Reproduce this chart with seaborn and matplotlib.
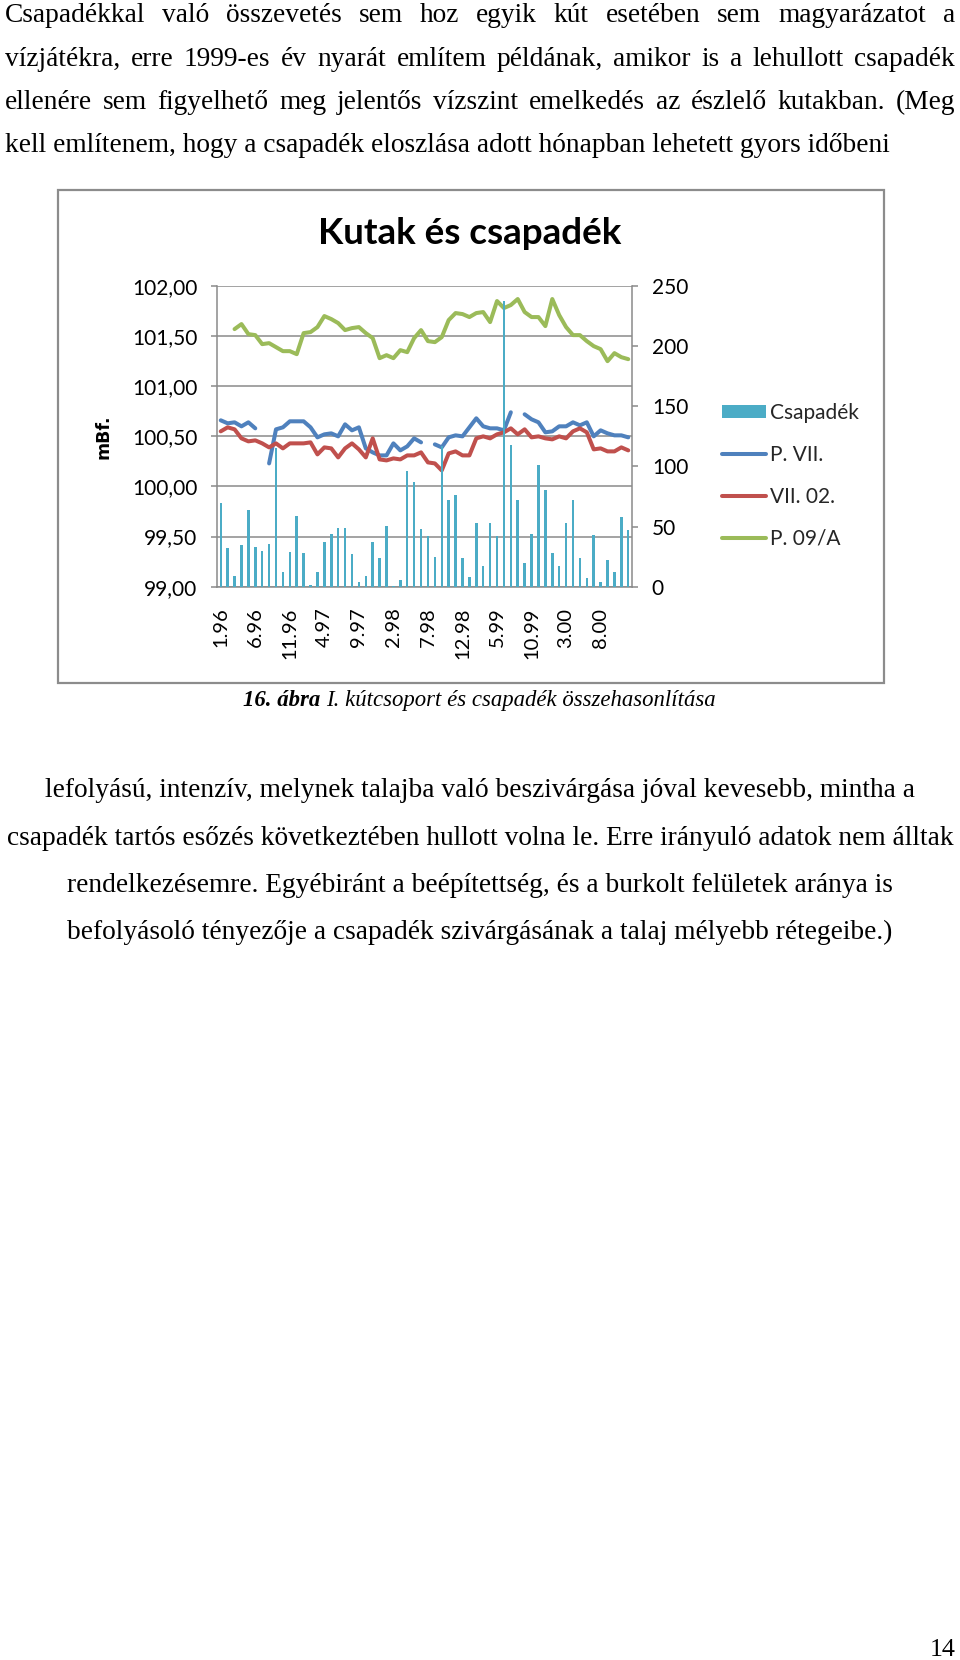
import numpy as np
import pandas as pd
import matplotlib
matplotlib.use("Agg")
import matplotlib.pyplot as plt
import seaborn as sns
from matplotlib.patches import Rectangle, Patch
from matplotlib.lines import Line2D
from matplotlib.ticker import FuncFormatter

# ---------------- data ----------------
month_labels = [
    "1.96", "2.96", "3.96", "4.96", "5.96", "6.96", "7.96", "8.96", "9.96", "10.96", "11.96", "12.96",
    "1.97", "2.97", "3.97", "4.97", "5.97", "6.97", "7.97", "8.97", "9.97", "10.97", "11.97", "12.97",
    "1.98", "2.98", "3.98", "4.98", "5.98", "6.98", "7.98", "8.98", "9.98", "10.98", "11.98", "12.98",
    "1.99", "2.99", "3.99", "4.99", "5.99", "6.99", "7.99", "8.99", "9.99", "10.99", "11.99", "12.99",
    "1.00", "2.00", "3.00", "4.00", "5.00", "6.00", "7.00", "8.00", "9.00", "10.00", "11.00", "12.00",
]
tick_labels = ["1.96", "6.96", "11.96", "4.97", "9.97", "2.98", "7.98", "12.98", "5.99", "10.99", "3.00", "8.00"]

# Csapadék (mm, right axis)
rain = [70, 32, 9, 35, 64, 33, 30, 35.5, 115, 12, 29, 59, 28, 1, 12, 37.5, 44, 49, 48.6, 27,
        4, 9, 37.5, 24, 50.5, 0.5, 5.5, 96, 87, 48, 42, 25, 116.7, 72, 76, 24, 8, 53, 17, 53,
        42, 237.5, 117.5, 72, 19.5, 44, 101, 80, 28, 17, 53, 72, 24, 7, 43, 3.6, 22, 12.5, 58, 47]

# P. VII. (mBf., left axis)
p_vii = [100.66, 100.63, 100.64, 100.60, 100.64, 100.58, np.nan, 100.23, 100.57, 100.59,
         100.65, 100.65, 100.65, 100.59, 100.49, 100.52, 100.53, 100.50, 100.62, 100.56,
         100.59, 100.38, 100.34, 100.31, 100.31, 100.43, 100.36, 100.40, 100.48, 100.44,
         np.nan, 100.42, 100.39, 100.49, 100.51, 100.50, 100.59, 100.68, 100.60, 100.58,
         100.58, 100.56, 100.74, np.nan, 100.72, 100.67, 100.64, 100.54, 100.55, 100.60,
         100.60, 100.64, 100.61, 100.64, 100.50, 100.56, 100.53, 100.51, 100.51, 100.49]

# VII. 02. (mBf., left axis)
vii_02 = [100.55, 100.59, 100.57, 100.48, 100.45, 100.46, 100.43, 100.39, 100.43, 100.38,
          100.43, 100.43, 100.43, 100.44, 100.32, 100.39, 100.38, 100.29, 100.38, 100.43,
          100.37, 100.29, 100.48, 100.27, 100.26, 100.28, 100.27, 100.31, 100.31, 100.34,
          100.24, 100.23, 100.16, 100.33, 100.35, 100.31, 100.31, 100.48, 100.50, 100.48,
          100.52, 100.54, 100.58, 100.52, 100.57, 100.49, 100.50, 100.48, 100.47, 100.50,
          100.48, 100.55, 100.58, 100.54, 100.37, 100.38, 100.35, 100.35, 100.39, 100.36]

# P. 09/A (mBf., left axis)
p_09a = [np.nan, np.nan, 101.57, 101.62, 101.52, 101.51, 101.42, 101.43, 101.39, 101.35,
         101.35, 101.32, 101.53, 101.54, 101.59, 101.70, 101.67, 101.63, 101.56, 101.58,
         101.59, 101.53, 101.48, 101.28, 101.31, 101.28, 101.36, 101.34, 101.48, 101.56,
         101.45, 101.44, 101.49, 101.66, 101.73, 101.72, 101.69, 101.73, 101.74, 101.64,
         101.85, 101.78, 101.81, 101.87, 101.74, 101.69, 101.69, 101.60, 101.87, 101.71,
         101.59, 101.51, 101.51, 101.45, 101.40, 101.37, 101.25, 101.33, 101.29, 101.27]

series_names = ["Csapadék", "P. VII.", "VII. 02.", "P. 09/A"]
colors = ["#4BACC6", "#4F81BD", "#C0504D", "#9BBB59"]

left_ticks = [99.0, 99.5, 100.0, 100.5, 101.0, 101.5, 102.0]
right_ticks = [0, 50, 100, 150, 200, 250]

# ---------------- figure ----------------
W, H = 960, 1660
sns.set_theme(style="white")
plt.rcParams["font.family"] = ["Lato", "DejaVu Sans"]

fig = plt.figure(figsize=(W / 100, H / 100), dpi=100)
fig.patch.set_facecolor("white")


def fx(x):
    return x / W


def fy(y):
    return 1 - y / H


# chart frame
fig.patches.append(Rectangle((fx(58), fy(683)), fx(884) - fx(58), fy(190) - fy(683),
                             transform=fig.transFigure, fill=False,
                             edgecolor="#8c8c8c", lw=1.6))

L, R, T, B = 217.3, 631.7, 286.0, 586.7
ax = fig.add_axes([fx(L), fy(B), fx(R) - fx(L), fy(T) - fy(B)])
ax2 = ax.twinx()

df = pd.DataFrame({"month": month_labels, "pos": np.arange(len(month_labels)),
                   "rain": rain, "P. VII.": p_vii, "VII. 02.": vii_02, "P. 09/A": p_09a})

# lines (left axis), split at gaps
for name, col in zip(series_names[1:], colors[1:]):
    vals = df[name].to_numpy()
    pos = df["pos"].to_numpy()
    ok = ~np.isnan(vals)
    starts = np.where(ok & ~np.r_[False, ok[:-1]])[0]
    ends = np.where(ok & ~np.r_[ok[1:], False])[0]
    for s, e in zip(starts, ends):
        sns.lineplot(x=pos[s:e + 1], y=vals[s:e + 1], ax=ax, color=col, lw=2.9,
                     legend=False, solid_capstyle="round", solid_joinstyle="round",
                     estimator=None, sort=False)

# bars (right axis)
sns.barplot(data=df, x="month", y="rain", order=month_labels, ax=ax2,
            color=colors[0], saturation=1, width=0.36, linewidth=0)

ax.set_xlim(-0.5, len(month_labels) - 0.5)
ax.set_ylim(99, 102)
ax2.set_ylim(0, 250)

ax.set_yticks(left_ticks)
ax.yaxis.set_major_formatter(FuncFormatter(lambda v, p: f"{v:.2f}".replace(".", ",")))
ax2.set_yticks(right_ticks)
ax2.set_yticklabels([str(v) for v in right_ticks])

tick_pos = [month_labels.index(t) for t in tick_labels]
ax.set_xticks(tick_pos)
ax.set_xticklabels(tick_labels, rotation=90)
ax.set_xlabel("")
ax.set_ylabel("")
ax2.set_xlabel("")
ax2.set_ylabel("")

gridc = "#8a8a8a"
ax.yaxis.grid(True, color=gridc, lw=1.1)
ax.xaxis.grid(False)
ax.set_axisbelow(True)

for sp in ["top", "right"]:
    ax.spines[sp].set_visible(False)
for sp in ["left", "bottom"]:
    ax.spines[sp].set_color(gridc)
    ax.spines[sp].set_linewidth(1.1)
for sp in ["top", "left", "bottom"]:
    ax2.spines[sp].set_visible(False)
ax2.spines["right"].set_color(gridc)
ax2.spines["right"].set_linewidth(1.1)

ax.tick_params(axis="y", which="major", length=4, width=1.1, color=gridc, pad=10.5,
               labelsize=15, labelcolor="black", left=True)
ax2.tick_params(axis="y", which="major", length=4, width=1.1, color=gridc, pad=10.5,
                labelsize=15, labelcolor="black", right=True)
ax.tick_params(axis="x", length=0, pad=15, labelsize=14.5, labelcolor="black")

# title, axis label
fig.text(fx(470), fy(233), "Kutak és csapadék", ha="center", va="center",
         fontsize=26.5, fontweight="bold", color="black")
fig.text(fx(103), fy(437), "mBf.", ha="center", va="center", rotation=90,
         fontsize=12.5, fontweight="bold", family=["DejaVu Sans"], color="black")

# legend
handles = [Patch(facecolor=colors[0], edgecolor="none")] + \
          [Line2D([0], [0], color=c, lw=2.9, solid_capstyle="round") for c in colors[1:]]
fig.legend(handles, series_names, loc="upper left",
           bbox_to_anchor=(fx(722), fy(403)), frameon=False, fontsize=15,
           handlelength=2.1, handleheight=0.6, handletextpad=0.2,
           labelspacing=1.05, borderpad=0, borderaxespad=0)

# ---------------- page text ----------------
serif = ["Liberation Serif", "DejaVu Serif"]
renderer = fig.canvas.get_renderer()


def text_width(s, size, **kw):
    t = fig.text(0, 0, s, fontsize=size, family=serif, **kw)
    w = t.get_window_extent(renderer).width
    t.remove()
    return w


top_lines = [
    "Csapadékkal való összevetés sem hoz egyik kút esetében sem magyarázatot a",
    "vízjátékra, erre 1999-es év nyarát említem példának, amikor is a lehullott csapadék",
    "ellenére sem figyelhető meg jelentős vízszint emelkedés az észlelő kutakban. (Meg",
    "kell említenem, hogy a csapadék eloszlása adott hónapban lehetett gyors időbeni",
]
bottom_lines = [
    "lefolyású, intenzív, melynek talajba való beszivárgása jóval kevesebb, mintha a",
    "csapadék tartós esőzés következtében hullott volna le. Erre irányuló adatok nem álltak",
    "rendelkezésemre. Egyébiránt a beépítettség, és a burkolt felületek aránya is",
    "befolyásoló tényezője a csapadék szivárgásának a talaj mélyebb rétegeibe.)",
]

size_a = 10 * 885 / text_width(top_lines[3], 10)
size_b = 10 * 946 / text_width(bottom_lines[1], 10)
body = (size_a + size_b) / 2


def justified(line, ybase, x0, x1, size):
    words = line.split()
    ws = [text_width(w, size) for w in words]
    gap = (x1 - x0 - sum(ws)) / (len(words) - 1)
    xp = x0
    for w, wd in zip(words, ws):
        fig.text(fx(xp), fy(ybase), w, fontsize=size, family=serif,
                 ha="left", va="baseline", color="black")
        xp += wd + gap


top_base = [22, 66, 109, 152]
for i, (ln, yb) in enumerate(zip(top_lines, top_base)):
    if i < 3:
        justified(ln, yb, 5, 955, body)
    else:
        fig.text(fx(5), fy(yb), ln, fontsize=body, family=serif, ha="left",
                 va="baseline", color="black")

bottom_base = [797, 845, 892, 939]
for ln, yb in zip(bottom_lines, bottom_base):
    fig.text(fx(480), fy(yb), ln, fontsize=body, family=serif, ha="center",
             va="baseline", color="black")

# caption
cap_a = "16. ábra "
cap_b = "I. kútcsoport és csapadék összehasonlítása"
w_tot = text_width(cap_a, 10, style="italic", weight="bold") + text_width(cap_b, 10, style="italic")
cap_size = 10 * 474 / w_tot
wa = text_width(cap_a, cap_size, style="italic", weight="bold")
wb = text_width(cap_b, cap_size, style="italic")
cx0 = 479 - (wa + wb) / 2
fig.text(fx(cx0), fy(706), cap_a, fontsize=cap_size, family=serif, style="italic",
         weight="bold", ha="left", va="baseline", color="black")
fig.text(fx(cx0 + wa), fy(706), cap_b, fontsize=cap_size, family=serif, style="italic",
         ha="left", va="baseline", color="black")

# page number
fig.text(fx(956), fy(1656), "14", fontsize=body * 0.95, family=serif, ha="right",
         va="baseline", color="black")

fig.savefig("out.png", dpi=100, facecolor="white")
